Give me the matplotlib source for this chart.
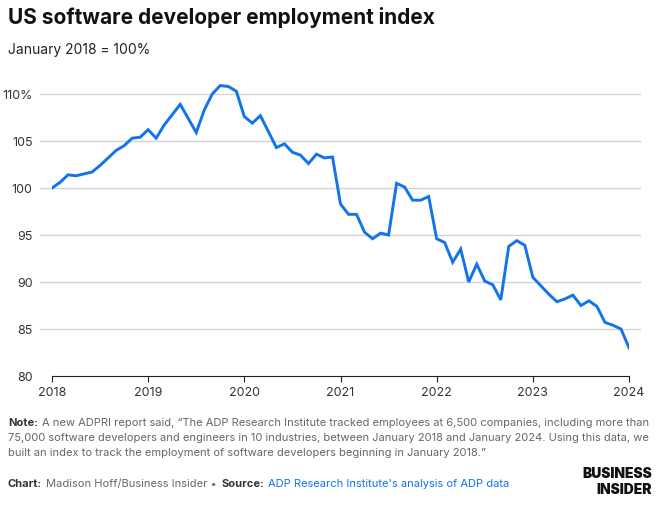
import matplotlib
matplotlib.use("Agg")
import matplotlib.pyplot as plt
import numpy as np

values = [100.0,100.6,101.4,101.3,101.5,101.7,102.4,103.2,104.0,104.5,105.3,105.4,
          106.2,105.3,106.7,107.8,108.9,107.4,105.9,108.3,110.0,110.9,110.8,110.3,
          107.6,106.9,107.7,106.0,104.3,104.7,103.8,103.5,102.6,103.6,103.2,103.3,
          98.3,97.2,97.2,95.3,94.6,95.2,95.0,100.5,100.1,98.7,98.7,99.1,
          94.6,94.2,92.1,93.5,90.0,91.9,90.1,89.7,88.1,93.8,94.4,93.9,
          90.5,89.6,88.7,87.9,88.2,88.6,87.5,88.0,87.4,85.7,85.4,85.0,83.0]
x = 2018 + np.arange(len(values)) / 12.0
yticks = [80, 85, 90, 95, 100, 105, 110]
ylabels = ["80", "85", "90", "95", "100", "105", "110%"]
xticks = [2018, 2019, 2020, 2021, 2022, 2023, 2024]

plt.rcParams['font.family'] = ['Inter', 'DejaVu Sans']
W, H = 661, 506
fig = plt.figure(figsize=(W/100, H/100), dpi=100)
ax = fig.add_axes([52/W, 1-377/H, (629-52)/W, (377-80)/H])
ax.plot(x, values, color='#1273EB', lw=2.1, solid_joinstyle='miter')
ax.set_xlim(2018, 2024)
ax.set_ylim(80, 80 + (377-80)/9.4)
ax.set_yticks(yticks)
ax.set_yticklabels(ylabels)
ax.set_xticks(xticks)
ax.set_xticklabels([str(t) for t in xticks])
for s in ['top', 'right', 'left']:
    ax.spines[s].set_visible(False)
ax.spines['bottom'].set_color('#222222')
ax.tick_params(axis='y', length=0, labelsize=9, colors='#333333', pad=14)
ax.tick_params(axis='x', length=4, labelsize=9, colors='#333333', color='#222222')
for t in yticks[1:]:
    ax.plot([2018 - 12/577*6, 2024 + 11/577*6], [t, t], color='#d3d3d3', lw=1, zorder=0, clip_on=False)

fig.text(8/W, 1-17/H, "US software developer employment index", fontsize=15, fontweight='bold', va='center', color='#111111')
fig.text(8/W, 1-50/H, "January 2018 = 100%", fontsize=10, va='center', color='#222222')

def chain(parts, y):
    prev = None
    for txt, col, bold in parts:
        kw = dict(fontsize=8, color=col, fontweight='bold' if bold else 'normal', va='center')
        if prev is None:
            prev = fig.text(8/W, 1-y/H, txt, **kw)
        else:
            prev = fig.text(0, 0, txt, transform=matplotlib.transforms.offset_copy(
                prev.get_transform(), fig=fig, x=0, y=0), **kw)
    return prev

# manual chaining via annotate
def chain2(parts, y):
    prev = None
    for txt, col, bold in parts:
        kw = dict(fontsize=8, color=col, fontweight='bold' if bold else 'normal', va='center')
        if prev is None:
            prev = fig.text(8/W, 1-y/H, txt, **kw)
        else:
            prev = fig.add_artist(matplotlib.text.Annotation(txt, xy=(1, 0.5), xycoords=prev,
                                  xytext=(3, 0), textcoords='offset points', ha='left', **kw))
    return prev

chain2([("Note:", '#333333', True), ("A new ADPRI report said, \u201cThe ADP Research Institute tracked employees at 6,500 companies, including more than", '#666666', False)], 423)
fig.text(8/W, 1-438/H, "75,000 software developers and engineers in 10 industries, between January 2018 and January 2024. Using this data, we", fontsize=8, color='#666666', va='center')
fig.text(8/W, 1-453/H, "built an index to track the employment of software developers beginning in January 2018.\u201d", fontsize=8, color='#666666', va='center')
chain2([("Chart:", '#333333', True), ("Madison Hoff/Business Insider \u2022", '#666666', False),
        ("Source:", '#333333', True), ("ADP Research Institute's analysis of ADP data", '#1273EB', False)], 484)
fig.text(652/W, 1-474/H, "BUSINESS", fontsize=10, fontweight='black', ha='right', va='center', color='#111111')
fig.text(652/W, 1-490/H, "INSIDER", fontsize=10, fontweight='black', ha='right', va='center', color='#111111')
fig.savefig("out.png", dpi=100)
